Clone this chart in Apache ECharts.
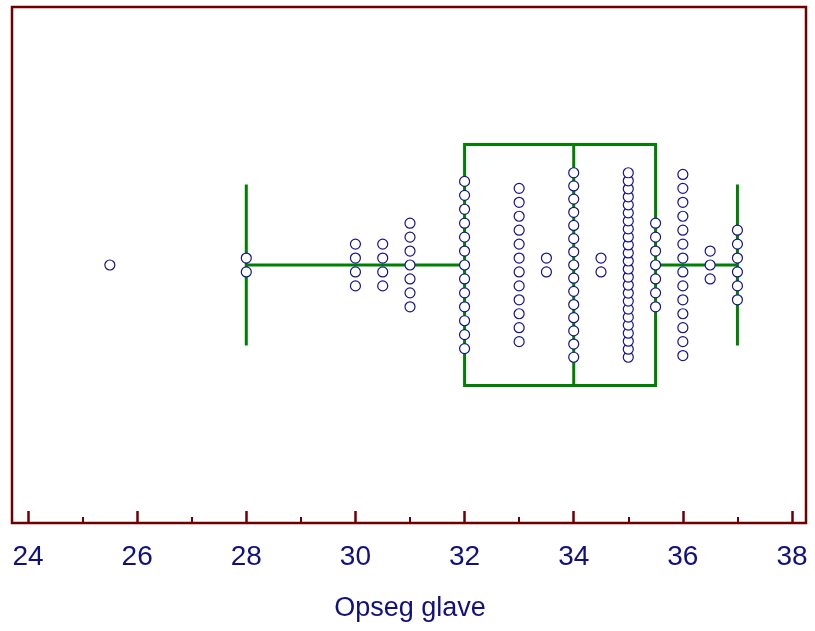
<!DOCTYPE html>
<html>
<head>
<meta charset="utf-8">
<script src="https://cdn.jsdelivr.net/npm/echarts@6/dist/echarts.min.js"></script>
<style>
  html, body { margin: 0; padding: 0; background: #fff; }
  #chart { width: 815px; height: 631px; }
</style>
</head>
<body>
<div id="chart"></div>
<script>
// observed values and how many dots sit on each one
const values = [25.5, 28, 30, 30.5, 31, 32, 33, 33.5, 34, 34.5, 35, 35.5, 36, 36.5, 37];
const counts = [1, 2, 4, 4, 7, 13, 12, 2, 15, 2, 24, 7, 14, 3, 6];
// whisker low, Q1, median, Q3, whisker high
const boxStats = [28, 32, 34, 35.5, 37];
const axisName = 'Opseg glave';

const frameColor = '#700000';
const textColor = '#10107f';
const boxColor = '#008000';
const font = '"Liberation Sans", Arial, sans-serif';

// stack the dots of each value around the centre line
const dotStep = 0.054, maxSpan = 0.715;
const dots = [];
values.forEach(function (v, i) {
  const n = counts[i];
  const step = n > 1 ? Math.min(dotStep, maxSpan / (n - 1)) : 0;
  for (let k = 0; k < n; k++) {
    dots.push([v, (k - (n - 1) / 2) * step]);
  }
});

const boxHalf = 0.467, capHalf = 0.312;

function renderBox(params, api) {
  const lo = boxStats[0], q1 = boxStats[1], med = boxStats[2], q3 = boxStats[3], hi = boxStats[4];
  const lineStyle = { stroke: boxColor, lineWidth: 3, fill: null };
  function seg(x1, y1, x2, y2) {
    const a = api.coord([x1, y1]), b = api.coord([x2, y2]);
    return { type: 'line', shape: { x1: a[0], y1: a[1], x2: b[0], y2: b[1] }, style: lineStyle };
  }
  const tl = api.coord([q1, boxHalf]), br = api.coord([q3, -boxHalf]);
  return {
    type: 'group',
    children: [
      seg(lo, 0, q1, 0),
      seg(q3, 0, hi, 0),
      seg(lo, -capHalf, lo, capHalf),
      seg(hi, -capHalf, hi, capHalf),
      { type: 'rect', shape: { x: tl[0], y: tl[1], width: br[0] - tl[0], height: br[1] - tl[1] }, style: lineStyle },
      seg(med, -boxHalf, med, boxHalf)
    ]
  };
}

const chart = echarts.init(document.getElementById('chart'));
chart.setOption({
  animation: false,
  backgroundColor: '#fff',
  grid: { left: 28, right: 23, top: 7, bottom: 108 },
  xAxis: {
    type: 'value',
    min: 24,
    max: 38,
    interval: 2,
    name: axisName,
    nameLocation: 'middle',
    nameGap: 72,
    nameTextStyle: { color: textColor, fontSize: 27, fontFamily: font },
    axisLine: { show: false, onZero: false },
    axisTick: { show: true, inside: true, length: 12, lineStyle: { color: frameColor, width: 2.5 } },
    minorTick: { show: true, splitNumber: 2, length: 6, lineStyle: { color: frameColor, width: 2 } },
    axisLabel: { color: textColor, fontSize: 28, fontFamily: font, margin: 20 },
    splitLine: { show: false }
  },
  yAxis: {
    type: 'value',
    min: -1,
    max: 1,
    show: false
  },
  graphic: [{
    type: 'rect',
    z: 100,
    shape: { x: 12, y: 7, width: 794, height: 516 },
    style: { fill: null, stroke: frameColor, lineWidth: 2.5 }
  }],
  series: [
    {
      type: 'custom',
      renderItem: renderBox,
      data: [[boxStats[2], 0]],
      z: 2,
      silent: true
    },
    {
      type: 'scatter',
      data: dots,
      symbol: 'circle',
      symbolSize: 10,
      itemStyle: { color: '#fff', borderColor: '#14148c', borderWidth: 1.2, opacity: 1 },
      z: 5
    }
  ]
});
</script>
</body>
</html>
